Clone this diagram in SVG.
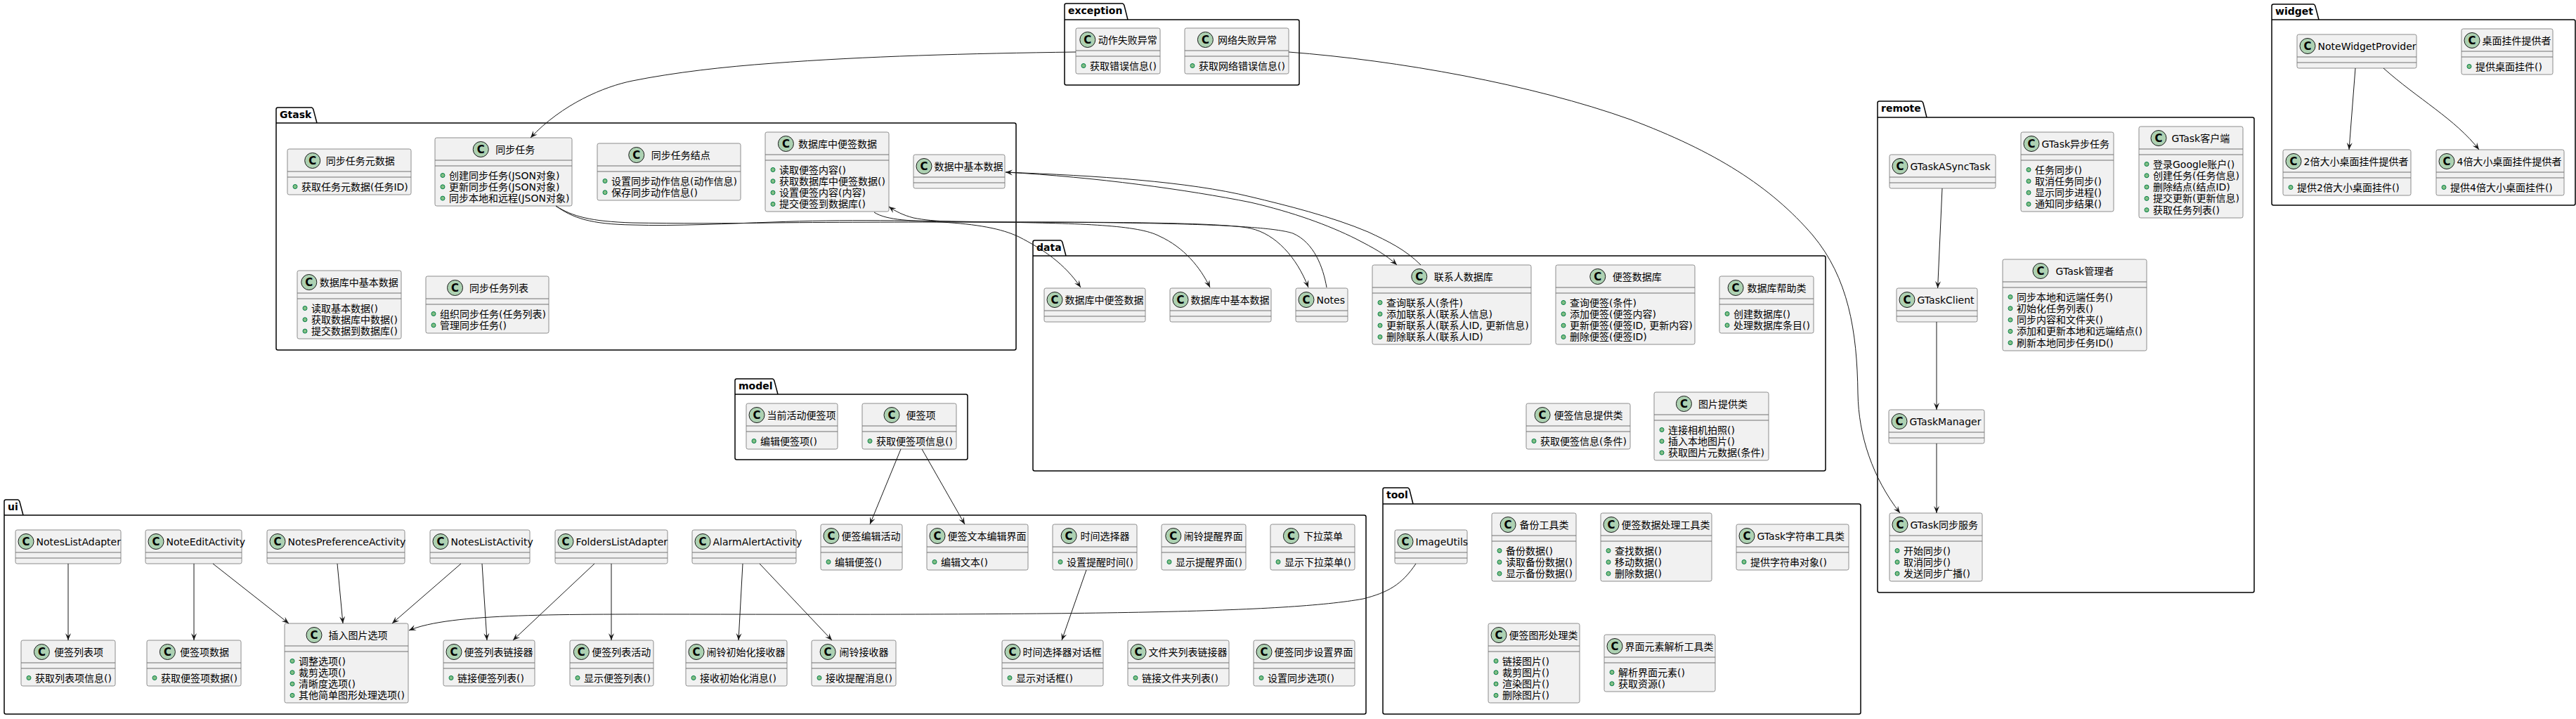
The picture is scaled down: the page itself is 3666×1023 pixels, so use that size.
<svg xmlns="http://www.w3.org/2000/svg" width="3666" height="1023" viewBox="0 0 3666 1023">
<style>
text{font-family:"DejaVu Sans","Noto Sans CJK SC",sans-serif;font-size:14px;fill:#000}
.p{fill:none;stroke:#000;stroke-width:1.5}
.pt{font-weight:700}
.b{fill:#F1F1F1;stroke:#8c8c8c;stroke-width:1}
.s{fill:none;stroke:#707070;stroke-width:1}
.o{fill:#ADD1B2;stroke:#181818;stroke-width:1}
.c{font-weight:700;font-size:15px;text-anchor:middle}
.d{fill:#84BE84;stroke:#038048;stroke-width:1}
.l{fill:none;stroke:#181818;stroke-width:1;marker-end:url(#a)}
</style>
<defs>
<marker id="a" markerWidth="12" markerHeight="12" refX="10" refY="5" orient="auto" markerUnits="userSpaceOnUse"><path d="M10,5 L0,1 L4,5 L0,9 Z" fill="#181818"/></marker>
</defs>
<rect width="3666" height="1023" fill="#fff"/>
<g id="packages">
<g id="pkg-exception"><path class="p" d="M1515,28V7.5Q1515,5 1517.5,5H1597Q1599,5 1600,8L1605,28M1515,28H1846.5Q1849,28 1849,30.5V118.5Q1849,121 1846.5,121H1517.5Q1515,121 1515,118.5V28"/><text class="pt" x="1520" y="20">exception</text></g>
<g id="pkg-Gtask"><path class="p" d="M393,175V155.5Q393,153 395.5,153H443Q445,153 446,156L451,175M393,175H1443.5Q1446,175 1446,177.5V495.5Q1446,498 1443.5,498H395.5Q393,498 393,495.5V175"/><text class="pt" x="398" y="168">Gtask</text></g>
<g id="pkg-data"><path class="p" d="M1470,364V344.5Q1470,342 1472.5,342H1509Q1511,342 1512,345L1517,364M1470,364H2595.5Q2598,364 2598,366.5V667.5Q2598,670 2595.5,670H1472.5Q1470,670 1470,667.5V364"/><text class="pt" x="1475" y="357">data</text></g>
<g id="pkg-remote"><path class="p" d="M2672,167V146.5Q2672,144 2674.5,144H2734Q2736,144 2737,147L2742,167M2672,167H3205.5Q3208,167 3208,169.5V840.5Q3208,843 3205.5,843H2674.5Q2672,843 2672,840.5V167"/><text class="pt" x="2677" y="159">remote</text></g>
<g id="pkg-widget"><path class="p" d="M3233,28V8.5Q3233,6 3235.5,6H3292Q3294,6 3295,9L3300,28M3233,28H3662.5Q3665,28 3665,30.5V289.5Q3665,292 3662.5,292H3235.5Q3233,292 3233,289.5V28"/><text class="pt" x="3238" y="21">widget</text></g>
<g id="pkg-model"><path class="p" d="M1046,561V541.5Q1046,539 1048.5,539H1099Q1101,539 1102,542L1107,561M1046,561H1374.5Q1377,561 1377,563.5V651.5Q1377,654 1374.5,654H1048.5Q1046,654 1046,651.5V561"/><text class="pt" x="1051" y="554">model</text></g>
<g id="pkg-ui"><path class="p" d="M6,733V713.5Q6,711 8.5,711H25Q27,711 28,714L33,733M6,733H1941.5Q1944,733 1944,735.5V1013.5Q1944,1016 1941.5,1016H8.5Q6,1016 6,1013.5V733"/><text class="pt" x="11" y="726">ui</text></g>
<g id="pkg-tool"><path class="p" d="M1968,717V696.5Q1968,694 1970.5,694H2003Q2005,694 2006,697L2011,717M1968,717H2645.5Q2648,717 2648,719.5V1013.5Q2648,1016 2645.5,1016H1970.5Q1968,1016 1968,1013.5V717"/><text class="pt" x="1973" y="709">tool</text></g>
</g>
<g id="nodes">
<g id="gtask-meta" transform="translate(409,212)"><rect class="b" width="176" height="65" rx="2.5"/><path class="s" d="M0,32H176M0,40H176"/><circle class="o" cx="35.7" cy="16.5" r="11"/><text class="c" x="35.7" y="22">C</text><text x="54.8" y="21.5">同步任务元数据</text><circle class="d" cx="11" cy="53.5" r="3"/><text x="20" y="58.5">获取任务元数据(任务ID)</text></g>
<g id="gtask-task" transform="translate(619,196)"><rect class="b" width="195" height="97" rx="2.5"/><path class="s" d="M0,32H195M0,40H195"/><circle class="o" cx="65.25" cy="16.5" r="11"/><text class="c" x="65.25" y="22">C</text><text x="86.25" y="21.5">同步任务</text><circle class="d" cx="11" cy="53.5" r="3"/><text x="20" y="58.5">创建同步任务(JSON对象)</text><circle class="d" cx="11" cy="69.8" r="3"/><text x="20" y="74.8">更新同步任务(JSON对象)</text><circle class="d" cx="11" cy="86.1" r="3"/><text x="20" y="91.1">同步本地和远程(JSON对象)</text></g>
<g id="gtask-node" transform="translate(850,204)"><rect class="b" width="204" height="81" rx="2.5"/><path class="s" d="M0,32H204M0,40H204"/><circle class="o" cx="55.75" cy="16.5" r="11"/><text class="c" x="55.75" y="22">C</text><text x="76.75" y="21.5">同步任务结点</text><circle class="d" cx="11" cy="53.5" r="3"/><text x="20" y="58.5">设置同步动作信息(动作信息)</text><circle class="d" cx="11" cy="69.8" r="3"/><text x="20" y="74.8">保存同步动作信息()</text></g>
<g id="gtask-sqlnote" transform="translate(1089,188)"><rect class="b" width="176" height="113" rx="2.5"/><path class="s" d="M0,32H176M0,40H176"/><circle class="o" cx="29.4" cy="16.5" r="11"/><text class="c" x="29.4" y="22">C</text><text x="47.1" y="21.5">数据库中便签数据</text><circle class="d" cx="11" cy="53.5" r="3"/><text x="20" y="58.5">读取便签内容()</text><circle class="d" cx="11" cy="69.8" r="3"/><text x="20" y="74.8">获取数据库中便签数据()</text><circle class="d" cx="11" cy="86.1" r="3"/><text x="20" y="91.1">设置便签内容(内容)</text><circle class="d" cx="11" cy="102.4" r="3"/><text x="20" y="107.4">提交便签到数据库()</text></g>
<g id="gtask-basic" transform="translate(1300,220)"><rect class="b" width="130" height="48" rx="2.5"/><path class="s" d="M0,32H130M0,40H130"/><circle class="o" cx="15" cy="16.5" r="11"/><text class="c" x="15" y="22">C</text><text x="29.5" y="21.5">数据中基本数据</text></g>
<g id="gtask-sqlbasic" transform="translate(423,385)"><rect class="b" width="148" height="97" rx="2.5"/><path class="s" d="M0,32H148M0,40H148"/><circle class="o" cx="16.8" cy="16.5" r="11"/><text class="c" x="16.8" y="22">C</text><text x="31.7" y="21.5">数据库中基本数据</text><circle class="d" cx="11" cy="53.5" r="3"/><text x="20" y="58.5">读取基本数据()</text><circle class="d" cx="11" cy="69.8" r="3"/><text x="20" y="74.8">获取数据库中数据()</text><circle class="d" cx="11" cy="86.1" r="3"/><text x="20" y="91.1">提交数据到数据库()</text></g>
<g id="gtask-list" transform="translate(606,393)"><rect class="b" width="175" height="81" rx="2.5"/><path class="s" d="M0,32H175M0,40H175"/><circle class="o" cx="41.55" cy="16.5" r="11"/><text class="c" x="41.55" y="22">C</text><text x="61.95" y="21.5">同步任务列表</text><circle class="d" cx="11" cy="53.5" r="3"/><text x="20" y="58.5">组织同步任务(任务列表)</text><circle class="d" cx="11" cy="69.8" r="3"/><text x="20" y="74.8">管理同步任务()</text></g>
<g id="exc-action" transform="translate(1531,40)"><rect class="b" width="120" height="65" rx="2.5"/><path class="s" d="M0,32H120M0,40H120"/><circle class="o" cx="16.8" cy="16.5" r="11"/><text class="c" x="16.8" y="22">C</text><text x="31.7" y="21.5">动作失败异常</text><circle class="d" cx="11" cy="53.5" r="3"/><text x="20" y="58.5">获取错误信息()</text></g>
<g id="exc-network" transform="translate(1686,40)"><rect class="b" width="148" height="65" rx="2.5"/><path class="s" d="M0,32H148M0,40H148"/><circle class="o" cx="29.4" cy="16.5" r="11"/><text class="c" x="29.4" y="22">C</text><text x="47.1" y="21.5">网络失败异常</text><circle class="d" cx="11" cy="53.5" r="3"/><text x="20" y="58.5">获取网络错误信息()</text></g>
<g id="data-sqlnote" transform="translate(1486,410)"><rect class="b" width="144" height="48" rx="2.5"/><path class="s" d="M0,32H144M0,40H144"/><circle class="o" cx="15" cy="16.5" r="11"/><text class="c" x="15" y="22">C</text><text x="29.5" y="21.5">数据库中便签数据</text></g>
<g id="data-sqlbasic" transform="translate(1665,410)"><rect class="b" width="144" height="48" rx="2.5"/><path class="s" d="M0,32H144M0,40H144"/><circle class="o" cx="15" cy="16.5" r="11"/><text class="c" x="15" y="22">C</text><text x="29.5" y="21.5">数据库中基本数据</text></g>
<g id="data-notes" transform="translate(1844,410)"><rect class="b" width="74" height="48" rx="2.5"/><path class="s" d="M0,32H74M0,40H74"/><circle class="o" cx="15" cy="16.5" r="11"/><text class="c" x="15" y="22">C</text><text x="29.5" y="21.5">Notes</text></g>
<g id="data-contact" transform="translate(1953,377)"><rect class="b" width="226" height="113" rx="2.5"/><path class="s" d="M0,32H226M0,40H226"/><circle class="o" cx="66.75" cy="16.5" r="11"/><text class="c" x="66.75" y="22">C</text><text x="87.75" y="21.5">联系人数据库</text><circle class="d" cx="11" cy="53.5" r="3"/><text x="20" y="58.5">查询联系人(条件)</text><circle class="d" cx="11" cy="69.8" r="3"/><text x="20" y="74.8">添加联系人(联系人信息)</text><circle class="d" cx="11" cy="86.1" r="3"/><text x="20" y="91.1">更新联系人(联系人ID, 更新信息)</text><circle class="d" cx="11" cy="102.4" r="3"/><text x="20" y="107.4">删除联系人(联系人ID)</text></g>
<g id="data-notedb" transform="translate(2214,377)"><rect class="b" width="198" height="113" rx="2.5"/><path class="s" d="M0,32H198M0,40H198"/><circle class="o" cx="59.75" cy="16.5" r="11"/><text class="c" x="59.75" y="22">C</text><text x="80.75" y="21.5">便签数据库</text><circle class="d" cx="11" cy="53.5" r="3"/><text x="20" y="58.5">查询便签(条件)</text><circle class="d" cx="11" cy="69.8" r="3"/><text x="20" y="74.8">添加便签(便签内容)</text><circle class="d" cx="11" cy="86.1" r="3"/><text x="20" y="91.1">更新便签(便签ID, 更新内容)</text><circle class="d" cx="11" cy="102.4" r="3"/><text x="20" y="107.4">删除便签(便签ID)</text></g>
<g id="data-helper" transform="translate(2447,393)"><rect class="b" width="134" height="81" rx="2.5"/><path class="s" d="M0,32H134M0,40H134"/><circle class="o" cx="23.1" cy="16.5" r="11"/><text class="c" x="23.1" y="22">C</text><text x="39.4" y="21.5">数据库帮助类</text><circle class="d" cx="11" cy="53.5" r="3"/><text x="20" y="58.5">创建数据库()</text><circle class="d" cx="11" cy="69.8" r="3"/><text x="20" y="74.8">处理数据库条目()</text></g>
<g id="data-info" transform="translate(2172,574)"><rect class="b" width="148" height="65" rx="2.5"/><path class="s" d="M0,32H148M0,40H148"/><circle class="o" cx="23.1" cy="16.5" r="11"/><text class="c" x="23.1" y="22">C</text><text x="39.4" y="21.5">便签信息提供类</text><circle class="d" cx="11" cy="53.5" r="3"/><text x="20" y="58.5">获取便签信息(条件)</text></g>
<g id="data-image" transform="translate(2354,558)"><rect class="b" width="163" height="97" rx="2.5"/><path class="s" d="M0,32H163M0,40H163"/><circle class="o" cx="42.45" cy="16.5" r="11"/><text class="c" x="42.45" y="22">C</text><text x="63.05" y="21.5">图片提供类</text><circle class="d" cx="11" cy="53.5" r="3"/><text x="20" y="58.5">连接相机拍照()</text><circle class="d" cx="11" cy="69.8" r="3"/><text x="20" y="74.8">插入本地图片()</text><circle class="d" cx="11" cy="86.1" r="3"/><text x="20" y="91.1">获取图片元数据(条件)</text></g>
<g id="rem-asynctask" transform="translate(2689,220)"><rect class="b" width="151" height="48" rx="2.5"/><path class="s" d="M0,32H151M0,40H151"/><circle class="o" cx="15" cy="16.5" r="11"/><text class="c" x="15" y="22">C</text><text x="29.5" y="21.5">GTaskASyncTask</text></g>
<g id="rem-async-cn" transform="translate(2876,188)"><rect class="b" width="132" height="113" rx="2.5"/><path class="s" d="M0,32H132M0,40H132"/><circle class="o" cx="15" cy="16.5" r="11"/><text class="c" x="15" y="22">C</text><text x="29.5" y="21.5">GTask异步任务</text><circle class="d" cx="11" cy="53.5" r="3"/><text x="20" y="58.5">任务同步()</text><circle class="d" cx="11" cy="69.8" r="3"/><text x="20" y="74.8">取消任务同步()</text><circle class="d" cx="11" cy="86.1" r="3"/><text x="20" y="91.1">显示同步进程()</text><circle class="d" cx="11" cy="102.4" r="3"/><text x="20" y="107.4">通知同步结果()</text></g>
<g id="rem-client-cn" transform="translate(3044,180)"><rect class="b" width="148" height="130" rx="2.5"/><path class="s" d="M0,32H148M0,40H148"/><circle class="o" cx="28" cy="16.5" r="11"/><text class="c" x="28" y="22">C</text><text x="46.6" y="21.5">GTask客户端</text><circle class="d" cx="11" cy="53.5" r="3"/><text x="20" y="58.5">登录Google账户()</text><circle class="d" cx="11" cy="69.8" r="3"/><text x="20" y="74.8">创建任务(任务信息)</text><circle class="d" cx="11" cy="86.1" r="3"/><text x="20" y="91.1">删除结点(结点ID)</text><circle class="d" cx="11" cy="102.4" r="3"/><text x="20" y="107.4">提交更新(更新信息)</text><circle class="d" cx="11" cy="118.7" r="3"/><text x="20" y="123.7">获取任务列表()</text></g>
<g id="rem-manager-cn" transform="translate(2850,369)"><rect class="b" width="205" height="130" rx="2.5"/><path class="s" d="M0,32H205M0,40H205"/><circle class="o" cx="54" cy="16.5" r="11"/><text class="c" x="54" y="22">C</text><text x="75.6" y="21.5">GTask管理者</text><circle class="d" cx="11" cy="53.5" r="3"/><text x="20" y="58.5">同步本地和远端任务()</text><circle class="d" cx="11" cy="69.8" r="3"/><text x="20" y="74.8">初始化任务列表()</text><circle class="d" cx="11" cy="86.1" r="3"/><text x="20" y="91.1">同步内容和文件夹()</text><circle class="d" cx="11" cy="102.4" r="3"/><text x="20" y="107.4">添加和更新本地和远端结点()</text><circle class="d" cx="11" cy="118.7" r="3"/><text x="20" y="123.7">刷新本地同步任务ID()</text></g>
<g id="rem-client" transform="translate(2699,410)"><rect class="b" width="115" height="48" rx="2.5"/><path class="s" d="M0,32H115M0,40H115"/><circle class="o" cx="15" cy="16.5" r="11"/><text class="c" x="15" y="22">C</text><text x="29.5" y="21.5">GTaskClient</text></g>
<g id="rem-manager" transform="translate(2688,583)"><rect class="b" width="136" height="48" rx="2.5"/><path class="s" d="M0,32H136M0,40H136"/><circle class="o" cx="15" cy="16.5" r="11"/><text class="c" x="15" y="22">C</text><text x="29.5" y="21.5">GTaskManager</text></g>
<g id="rem-service" transform="translate(2689,730)"><rect class="b" width="132" height="97" rx="2.5"/><path class="s" d="M0,32H132M0,40H132"/><circle class="o" cx="15" cy="16.5" r="11"/><text class="c" x="15" y="22">C</text><text x="29.5" y="21.5">GTask同步服务</text><circle class="d" cx="11" cy="53.5" r="3"/><text x="20" y="58.5">开始同步()</text><circle class="d" cx="11" cy="69.8" r="3"/><text x="20" y="74.8">取消同步()</text><circle class="d" cx="11" cy="86.1" r="3"/><text x="20" y="91.1">发送同步广播()</text></g>
<g id="wid-provider" transform="translate(3269,49)"><rect class="b" width="170" height="48" rx="2.5"/><path class="s" d="M0,32H170M0,40H170"/><circle class="o" cx="15" cy="16.5" r="11"/><text class="c" x="15" y="22">C</text><text x="29.5" y="21.5">NoteWidgetProvider</text></g>
<g id="wid-cn" transform="translate(3503,41)"><rect class="b" width="130" height="65" rx="2.5"/><path class="s" d="M0,32H130M0,40H130"/><circle class="o" cx="15" cy="16.5" r="11"/><text class="c" x="15" y="22">C</text><text x="29.5" y="21.5">桌面挂件提供者</text><circle class="d" cx="11" cy="53.5" r="3"/><text x="20" y="58.5">提供桌面挂件()</text></g>
<g id="wid-2x" transform="translate(3249,213)"><rect class="b" width="182" height="65" rx="2.5"/><path class="s" d="M0,32H182M0,40H182"/><circle class="o" cx="15" cy="16.5" r="11"/><text class="c" x="15" y="22">C</text><text x="29.5" y="21.5">2倍大小桌面挂件提供者</text><circle class="d" cx="11" cy="53.5" r="3"/><text x="20" y="58.5">提供2倍大小桌面挂件()</text></g>
<g id="wid-4x" transform="translate(3467,213)"><rect class="b" width="182" height="65" rx="2.5"/><path class="s" d="M0,32H182M0,40H182"/><circle class="o" cx="15" cy="16.5" r="11"/><text class="c" x="15" y="22">C</text><text x="29.5" y="21.5">4倍大小桌面挂件提供者</text><circle class="d" cx="11" cy="53.5" r="3"/><text x="20" y="58.5">提供4倍大小桌面挂件()</text></g>
<g id="model-active" transform="translate(1062,574)"><rect class="b" width="130" height="65" rx="2.5"/><path class="s" d="M0,32H130M0,40H130"/><circle class="o" cx="15" cy="16.5" r="11"/><text class="c" x="15" y="22">C</text><text x="29.5" y="21.5">当前活动便签项</text><circle class="d" cx="11" cy="53.5" r="3"/><text x="20" y="58.5">编辑便签项()</text></g>
<g id="model-item" transform="translate(1227,574)"><rect class="b" width="134" height="65" rx="2.5"/><path class="s" d="M0,32H134M0,40H134"/><circle class="o" cx="42" cy="16.5" r="11"/><text class="c" x="42" y="22">C</text><text x="62.5" y="21.5">便签项</text><circle class="d" cx="11" cy="53.5" r="3"/><text x="20" y="58.5">获取便签项信息()</text></g>
<g id="ui-listadapter" transform="translate(22,754)"><rect class="b" width="150" height="48" rx="2.5"/><path class="s" d="M0,32H150M0,40H150"/><circle class="o" cx="15" cy="16.5" r="11"/><text class="c" x="15" y="22">C</text><text x="29.5" y="21.5">NotesListAdapter</text></g>
<g id="ui-edit" transform="translate(207,754)"><rect class="b" width="137" height="48" rx="2.5"/><path class="s" d="M0,32H137M0,40H137"/><circle class="o" cx="15" cy="16.5" r="11"/><text class="c" x="15" y="22">C</text><text x="29.5" y="21.5">NoteEditActivity</text></g>
<g id="ui-pref" transform="translate(380,754)"><rect class="b" width="196" height="48" rx="2.5"/><path class="s" d="M0,32H196M0,40H196"/><circle class="o" cx="15" cy="16.5" r="11"/><text class="c" x="15" y="22">C</text><text x="29.5" y="21.5">NotesPreferenceActivity</text></g>
<g id="ui-list" transform="translate(612,754)"><rect class="b" width="142" height="48" rx="2.5"/><path class="s" d="M0,32H142M0,40H142"/><circle class="o" cx="15" cy="16.5" r="11"/><text class="c" x="15" y="22">C</text><text x="29.5" y="21.5">NotesListActivity</text></g>
<g id="ui-folders" transform="translate(790,754)"><rect class="b" width="160" height="48" rx="2.5"/><path class="s" d="M0,32H160M0,40H160"/><circle class="o" cx="15" cy="16.5" r="11"/><text class="c" x="15" y="22">C</text><text x="29.5" y="21.5">FoldersListAdapter</text></g>
<g id="ui-alarm" transform="translate(985,754)"><rect class="b" width="148" height="48" rx="2.5"/><path class="s" d="M0,32H148M0,40H148"/><circle class="o" cx="15" cy="16.5" r="11"/><text class="c" x="15" y="22">C</text><text x="29.5" y="21.5">AlarmAlertActivity</text></g>
<g id="ui-listitem" transform="translate(30,911)"><rect class="b" width="134" height="65" rx="2.5"/><path class="s" d="M0,32H134M0,40H134"/><circle class="o" cx="29.4" cy="16.5" r="11"/><text class="c" x="29.4" y="22">C</text><text x="47.1" y="21.5">便签列表项</text><circle class="d" cx="11" cy="53.5" r="3"/><text x="20" y="58.5">获取列表项信息()</text></g>
<g id="ui-itemdata" transform="translate(209,911)"><rect class="b" width="134" height="65" rx="2.5"/><path class="s" d="M0,32H134M0,40H134"/><circle class="o" cx="29.4" cy="16.5" r="11"/><text class="c" x="29.4" y="22">C</text><text x="47.1" y="21.5">便签项数据</text><circle class="d" cx="11" cy="53.5" r="3"/><text x="20" y="58.5">获取便签项数据()</text></g>
<g id="ui-insert" transform="translate(405,887)"><rect class="b" width="176" height="113" rx="2.5"/><path class="s" d="M0,32H176M0,40H176"/><circle class="o" cx="42" cy="16.5" r="11"/><text class="c" x="42" y="22">C</text><text x="62.5" y="21.5">插入图片选项</text><circle class="d" cx="11" cy="53.5" r="3"/><text x="20" y="58.5">调整选项()</text><circle class="d" cx="11" cy="69.8" r="3"/><text x="20" y="74.8">裁剪选项()</text><circle class="d" cx="11" cy="86.1" r="3"/><text x="20" y="91.1">清晰度选项()</text><circle class="d" cx="11" cy="102.4" r="3"/><text x="20" y="107.4">其他简单图形处理选项()</text></g>
<g id="ui-listlink" transform="translate(631,911)"><rect class="b" width="130" height="65" rx="2.5"/><path class="s" d="M0,32H130M0,40H130"/><circle class="o" cx="15" cy="16.5" r="11"/><text class="c" x="15" y="22">C</text><text x="29.5" y="21.5">便签列表链接器</text><circle class="d" cx="11" cy="53.5" r="3"/><text x="20" y="58.5">链接便签列表()</text></g>
<g id="ui-listact" transform="translate(811,911)"><rect class="b" width="119" height="65" rx="2.5"/><path class="s" d="M0,32H119M0,40H119"/><circle class="o" cx="16.35" cy="16.5" r="11"/><text class="c" x="16.35" y="22">C</text><text x="31.15" y="21.5">便签列表活动</text><circle class="d" cx="11" cy="53.5" r="3"/><text x="20" y="58.5">显示便签列表()</text></g>
<g id="ui-alarminit" transform="translate(976,911)"><rect class="b" width="144" height="65" rx="2.5"/><path class="s" d="M0,32H144M0,40H144"/><circle class="o" cx="15" cy="16.5" r="11"/><text class="c" x="15" y="22">C</text><text x="29.5" y="21.5">闹铃初始化接收器</text><circle class="d" cx="11" cy="53.5" r="3"/><text x="20" y="58.5">接收初始化消息()</text></g>
<g id="ui-alarmrecv" transform="translate(1155,911)"><rect class="b" width="120" height="65" rx="2.5"/><path class="s" d="M0,32H120M0,40H120"/><circle class="o" cx="23.1" cy="16.5" r="11"/><text class="c" x="23.1" y="22">C</text><text x="39.4" y="21.5">闹铃接收器</text><circle class="d" cx="11" cy="53.5" r="3"/><text x="20" y="58.5">接收提醒消息()</text></g>
<g id="ui-timedlg" transform="translate(1426,911)"><rect class="b" width="144" height="65" rx="2.5"/><path class="s" d="M0,32H144M0,40H144"/><circle class="o" cx="15" cy="16.5" r="11"/><text class="c" x="15" y="22">C</text><text x="29.5" y="21.5">时间选择器对话框</text><circle class="d" cx="11" cy="53.5" r="3"/><text x="20" y="58.5">显示对话框()</text></g>
<g id="ui-folderlink" transform="translate(1605,911)"><rect class="b" width="144" height="65" rx="2.5"/><path class="s" d="M0,32H144M0,40H144"/><circle class="o" cx="15" cy="16.5" r="11"/><text class="c" x="15" y="22">C</text><text x="29.5" y="21.5">文件夹列表链接器</text><circle class="d" cx="11" cy="53.5" r="3"/><text x="20" y="58.5">链接文件夹列表()</text></g>
<g id="ui-syncset" transform="translate(1784,911)"><rect class="b" width="144" height="65" rx="2.5"/><path class="s" d="M0,32H144M0,40H144"/><circle class="o" cx="15" cy="16.5" r="11"/><text class="c" x="15" y="22">C</text><text x="29.5" y="21.5">便签同步设置界面</text><circle class="d" cx="11" cy="53.5" r="3"/><text x="20" y="58.5">设置同步选项()</text></g>
<g id="ui-noteedit" transform="translate(1168,746)"><rect class="b" width="116" height="65" rx="2.5"/><path class="s" d="M0,32H116M0,40H116"/><circle class="o" cx="15" cy="16.5" r="11"/><text class="c" x="15" y="22">C</text><text x="29.5" y="21.5">便签编辑活动</text><circle class="d" cx="11" cy="53.5" r="3"/><text x="20" y="58.5">编辑便签()</text></g>
<g id="ui-textedit" transform="translate(1319,746)"><rect class="b" width="144" height="65" rx="2.5"/><path class="s" d="M0,32H144M0,40H144"/><circle class="o" cx="15" cy="16.5" r="11"/><text class="c" x="15" y="22">C</text><text x="29.5" y="21.5">便签文本编辑界面</text><circle class="d" cx="11" cy="53.5" r="3"/><text x="20" y="58.5">编辑文本()</text></g>
<g id="ui-timepick" transform="translate(1498,746)"><rect class="b" width="120" height="65" rx="2.5"/><path class="s" d="M0,32H120M0,40H120"/><circle class="o" cx="23.1" cy="16.5" r="11"/><text class="c" x="23.1" y="22">C</text><text x="39.4" y="21.5">时间选择器</text><circle class="d" cx="11" cy="53.5" r="3"/><text x="20" y="58.5">设置提醒时间()</text></g>
<g id="ui-alarmview" transform="translate(1653,746)"><rect class="b" width="120" height="65" rx="2.5"/><path class="s" d="M0,32H120M0,40H120"/><circle class="o" cx="16.8" cy="16.5" r="11"/><text class="c" x="16.8" y="22">C</text><text x="31.7" y="21.5">闹铃提醒界面</text><circle class="d" cx="11" cy="53.5" r="3"/><text x="20" y="58.5">显示提醒界面()</text></g>
<g id="ui-dropdown" transform="translate(1808,746)"><rect class="b" width="120" height="65" rx="2.5"/><path class="s" d="M0,32H120M0,40H120"/><circle class="o" cx="29.4" cy="16.5" r="11"/><text class="c" x="29.4" y="22">C</text><text x="47.1" y="21.5">下拉菜单</text><circle class="d" cx="11" cy="53.5" r="3"/><text x="20" y="58.5">显示下拉菜单()</text></g>
<g id="tool-image" transform="translate(1985,754)"><rect class="b" width="103" height="48" rx="2.5"/><path class="s" d="M0,32H103M0,40H103"/><circle class="o" cx="15" cy="16.5" r="11"/><text class="c" x="15" y="22">C</text><text x="29.5" y="21.5">ImageUtils</text></g>
<g id="tool-backup" transform="translate(2123,730)"><rect class="b" width="120" height="97" rx="2.5"/><path class="s" d="M0,32H120M0,40H120"/><circle class="o" cx="23.1" cy="16.5" r="11"/><text class="c" x="23.1" y="22">C</text><text x="39.4" y="21.5">备份工具类</text><circle class="d" cx="11" cy="53.5" r="3"/><text x="20" y="58.5">备份数据()</text><circle class="d" cx="11" cy="69.8" r="3"/><text x="20" y="74.8">读取备份数据()</text><circle class="d" cx="11" cy="86.1" r="3"/><text x="20" y="91.1">显示备份数据()</text></g>
<g id="tool-data" transform="translate(2278,730)"><rect class="b" width="158" height="97" rx="2.5"/><path class="s" d="M0,32H158M0,40H158"/><circle class="o" cx="15" cy="16.5" r="11"/><text class="c" x="15" y="22">C</text><text x="29.5" y="21.5">便签数据处理工具类</text><circle class="d" cx="11" cy="53.5" r="3"/><text x="20" y="58.5">查找数据()</text><circle class="d" cx="11" cy="69.8" r="3"/><text x="20" y="74.8">移动数据()</text><circle class="d" cx="11" cy="86.1" r="3"/><text x="20" y="91.1">删除数据()</text></g>
<g id="tool-string" transform="translate(2471,746)"><rect class="b" width="160" height="65" rx="2.5"/><path class="s" d="M0,32H160M0,40H160"/><circle class="o" cx="15" cy="16.5" r="11"/><text class="c" x="15" y="22">C</text><text x="29.5" y="21.5">GTask字符串工具类</text><circle class="d" cx="11" cy="53.5" r="3"/><text x="20" y="58.5">提供字符串对象()</text></g>
<g id="tool-graph" transform="translate(2118,887)"><rect class="b" width="130" height="113" rx="2.5"/><path class="s" d="M0,32H130M0,40H130"/><circle class="o" cx="15" cy="16.5" r="11"/><text class="c" x="15" y="22">C</text><text x="29.5" y="21.5">便签图形处理类</text><circle class="d" cx="11" cy="53.5" r="3"/><text x="20" y="58.5">链接图片()</text><circle class="d" cx="11" cy="69.8" r="3"/><text x="20" y="74.8">裁剪图片()</text><circle class="d" cx="11" cy="86.1" r="3"/><text x="20" y="91.1">渲染图片()</text><circle class="d" cx="11" cy="102.4" r="3"/><text x="20" y="107.4">删除图片()</text></g>
<g id="tool-parse" transform="translate(2283,903)"><rect class="b" width="158" height="81" rx="2.5"/><path class="s" d="M0,32H158M0,40H158"/><circle class="o" cx="15" cy="16.5" r="11"/><text class="c" x="15" y="22">C</text><text x="29.5" y="21.5">界面元素解析工具类</text><circle class="d" cx="11" cy="53.5" r="3"/><text x="20" y="58.5">解析界面元素()</text><circle class="d" cx="11" cy="69.8" r="3"/><text x="20" y="74.8">获取资源()</text></g>
</g>
<g id="connectors">
<path class="l" d="M1531,74C1380,76 1230,80 1100,90C1030,95 960,103 900,115C860,123 800,148 755,196"/>
<path class="l" d="M1834,74C1990,86 2180,120 2320,170C2440,215 2520,265 2580,335C2630,395 2643,470 2644,560C2645,620 2665,680 2704,730"/>
<path class="l" d="M791,293C815,310 840,319 900,320C960,322 1040,318 1100,316C1200,312 1300,314 1420,316C1540,318 1620,320 1650,336C1685,352 1708,380 1722,409"/>
<path class="l" d="M791,293C815,308 840,315 900,317C960,318 1040,318 1100,317C1200,316 1300,316 1420,316C1560,316 1740,316 1780,325C1815,333 1845,365 1862,409"/>
<path class="l" d="M1244,302C1262,314 1300,314 1340,316C1390,319 1425,325 1450,337C1485,355 1515,375 1538,409"/>
<path class="l" d="M1888,409C1883,380 1870,345 1840,332C1810,322 1700,316 1420,316C1370,316 1330,316 1300,310C1285,306 1275,301 1265,294"/>
<path class="l" d="M2022,377C2000,355 1975,343 1947,330C1895,308 1830,292 1780,280C1690,258 1560,250 1431,245"/>
<path class="l" d="M1431,245C1560,252 1690,270 1780,288C1840,302 1890,320 1930,340C1955,353 1972,362 1988,377"/>
<path class="l" d="M2015,802C1995,832 1975,843 1940,852C1830,872 1550,875 1000,874C800,874 640,872 582,897"/>
<path class="l" d="M97,802V911"/>
<path class="l" d="M276,802V911"/>
<path class="l" d="M303,802L411,887"/>
<path class="l" d="M480,802L488,887"/>
<path class="l" d="M656,802L558,887"/>
<path class="l" d="M686,802L693,911"/>
<path class="l" d="M846,802L730,911"/>
<path class="l" d="M870,802V911"/>
<path class="l" d="M1057,802L1051,911"/>
<path class="l" d="M1081,802L1184,911"/>
<path class="l" d="M1546,811L1511,911"/>
<path class="l" d="M1282,639L1238,746"/>
<path class="l" d="M1312,639L1373,746"/>
<path class="l" d="M2764,268L2757.6,410"/>
<path class="l" d="M2756,458V583"/>
<path class="l" d="M2756,631V730"/>
<path class="l" d="M3352,97L3343,213"/>
<path class="l" d="M3392,97C3440,140 3495,170 3528,213"/>
</g>
</svg>
